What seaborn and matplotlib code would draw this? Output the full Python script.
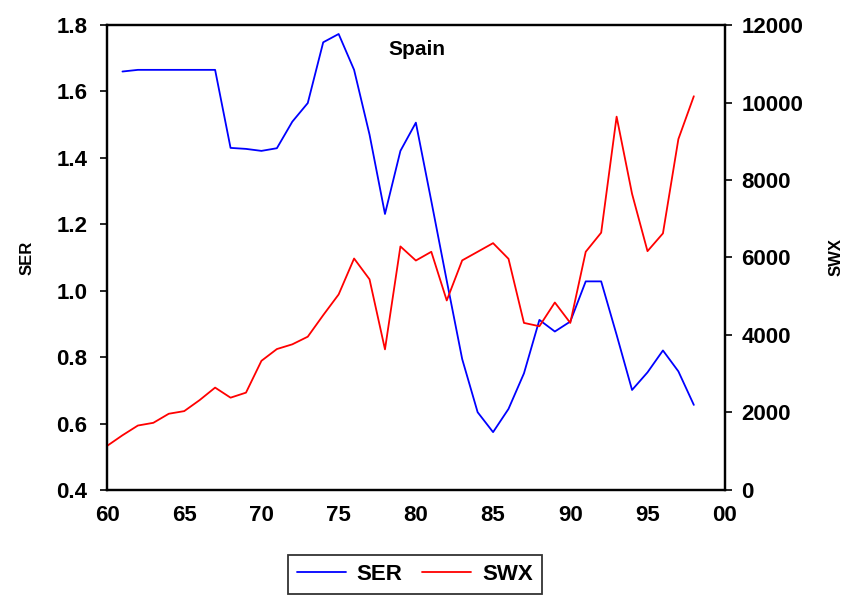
import numpy as np
import pandas as pd
import matplotlib.pyplot as plt
import seaborn as sns
from matplotlib.ticker import MultipleLocator, FuncFormatter
from matplotlib.lines import Line2D

# ── DATA ─────────────────────────────────────────────────────
ser_years = list(range(1961, 1999))
ser_values = [1.66, 1.665, 1.665, 1.665, 1.665, 1.665, 1.665, 1.43, 1.427, 1.421,
              1.429, 1.509, 1.565, 1.748, 1.773, 1.665, 1.47, 1.231, 1.421, 1.506,
              1.27, 1.03, 0.794, 0.634, 0.574, 0.644, 0.751, 0.912, 0.877, 0.907,
              1.028, 1.028, 0.867, 0.701, 0.754, 0.820, 0.757, 0.656]

swx_years = list(range(1960, 1999))
swx_values = [1135, 1410, 1662, 1732, 1966, 2034, 2319, 2641, 2381, 2511,
              3332, 3636, 3758, 3955, 4511, 5046, 5973, 5436, 3628, 6285,
              5921, 6147, 4890, 5925, 6147, 6370, 5965, 4311, 4225, 4838,
              4311, 6147, 6640, 9635, 7643, 6163, 6622, 9056, 10162]

ser = pd.DataFrame({'year': ser_years, 'SER': ser_values})
swx = pd.DataFrame({'year': swx_years, 'SWX': swx_values})

# ── STYLE ────────────────────────────────────────────────────
sns.set_style('white')
plt.rcParams['font.family'] = ['Liberation Sans', 'DejaVu Sans']
plt.rcParams['font.weight'] = 'bold'
plt.rcParams['text.color'] = 'black'
plt.rcParams['axes.labelcolor'] = 'black'
plt.rcParams['xtick.color'] = 'black'
plt.rcParams['ytick.color'] = 'black'

fig = plt.figure(figsize=(8.52, 5.96), dpi=100)
ax = fig.add_axes([0.1256, 0.178, 0.725, 0.780])
ax2 = ax.twinx()

sns.lineplot(data=ser, x='year', y='SER', ax=ax, color='#0000ff', lw=1.3)
sns.lineplot(data=swx, x='year', y='SWX', ax=ax2, color='#ff0000', lw=1.3)

ax.set_xlim(1960, 2000)
ax.set_ylim(0.4, 1.8)
ax2.set_ylim(0, 12000)

ax.xaxis.set_major_locator(MultipleLocator(5))
ax.xaxis.set_minor_locator(MultipleLocator(1))
ax.xaxis.set_major_formatter(FuncFormatter(lambda v, p: f'{int(v) % 100:02d}'))
ax.yaxis.set_major_locator(MultipleLocator(0.2))
ax.yaxis.set_major_formatter(FuncFormatter(lambda v, p: f'{v:.1f}'))
ax2.yaxis.set_major_locator(MultipleLocator(2000))

ax.tick_params(axis='x', which='both', direction='in', length=6, width=1.2,
               labelsize=16, pad=11, top=False)
ax.tick_params(axis='y', direction='out', length=5, width=1.2, labelsize=16, pad=9)
ax2.tick_params(axis='y', direction='out', length=5, width=1.2, labelsize=16, pad=7)

for a in (ax, ax2):
    for s in a.spines.values():
        s.set_linewidth(1.6)
        s.set_color('black')
    for lab in a.get_xticklabels() + a.get_yticklabels():
        lab.set_fontweight('bold')

ax.set_xlabel('')
ax.set_ylabel('SER', fontsize=12, fontweight='bold')
ax.yaxis.set_label_coords(-0.118, 0.5)
ax2.set_ylabel('SWX', fontsize=12, fontweight='bold', rotation=90)
ax2.yaxis.set_label_coords(1.168, 0.5)

ax.text(0.502, 0.948, 'Spain', transform=ax.transAxes, ha='center', va='center',
        fontsize=15, fontweight='bold')

handles = [Line2D([], [], color='#0000ff', lw=1.3),
           Line2D([], [], color='#ff0000', lw=1.3)]
leg = fig.legend(handles, ['SER', 'SWX'], loc='center', bbox_to_anchor=(0.487, 0.036),
                 ncol=2, frameon=True, fancybox=False, edgecolor='black',
                 handlelength=2.2, handletextpad=0.5, columnspacing=0.9,
                 borderpad=0.4, borderaxespad=0,
                 prop={'size': 16, 'weight': 'bold'})
leg.get_frame().set_linewidth(1.3)

plt.savefig('out.png', dpi=100)
